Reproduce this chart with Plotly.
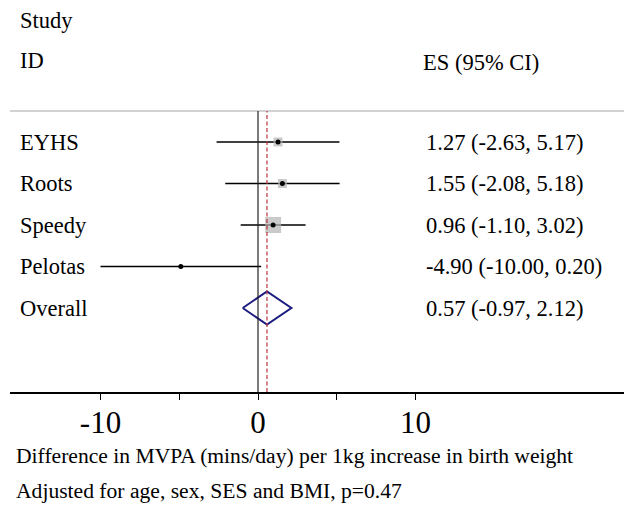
import plotly.graph_objects as go

studies = ["EYHS", "Roots", "Speedy", "Pelotas"]
es = [1.27, 1.55, 0.96, -4.90]
lo = [-2.63, -2.08, -1.10, -10.00]
hi = [5.17, 5.18, 3.02, 0.20]
box_size = [9, 9, 16, 2]

overall_label = "Overall"
overall_es = 0.57
overall_lo = -0.97
overall_hi = 2.12

tick_vals = [-10, -5, 0, 5, 10]
tick_text = ["-10", "", "0", "", "10"]

header_left = ["Study", "ID"]
header_right = "ES (95% CI)"
xlabel = "Difference in MVPA (mins/day) per 1kg increase in birth weight"
note = "Adjusted for age, sex, SES and BMI, p=0.47"

FONT = "Liberation Serif, Times New Roman, serif"
OFF = 8  # page body margin
PAGE_W, PAGE_H = 632, 509
W, H = PAGE_W - OFF, PAGE_H - OFF

# layout in page pixels
PLOT_LEFT, PLOT_RIGHT, PLOT_TOP, PLOT_BOTTOM = 10, 632, 111, 392
PX_PER_UNIT = 15.75
ZERO_PX = 258
ROW0_PX = 142
ROW_STEP = 41.5

L = PLOT_LEFT - OFF
R = max(OFF + W - PLOT_RIGHT, 0)
T = PLOT_TOP - OFF
B = OFF + H - PLOT_BOTTOM

plot_w = W - L - R
plot_h = H - T - B
x_range = [(PLOT_LEFT - ZERO_PX) / PX_PER_UNIT, (PLOT_LEFT + plot_w - ZERO_PX) / PX_PER_UNIT]
y_range = [(PLOT_BOTTOM - ROW0_PX) / ROW_STEP, (PLOT_TOP - ROW0_PX) / ROW_STEP]


def px_x(px):
    return (px - PLOT_LEFT) / plot_w


def px_y(py):
    return (PLOT_BOTTOM - py) / plot_h


fig = go.Figure()

rows = list(range(len(studies)))
for i in rows:
    fig.add_trace(go.Scatter(x=[lo[i], hi[i]], y=[i, i], mode="lines",
                             line=dict(color="black", width=1.6),
                             showlegend=False, hoverinfo="skip"))
fig.add_trace(go.Scatter(x=es, y=rows, mode="markers",
                         marker=dict(symbol="square", size=box_size, color="#b4b4b4",
                                     line=dict(width=0)),
                         showlegend=False, hoverinfo="skip"))
fig.add_trace(go.Scatter(x=es, y=rows, mode="markers",
                         marker=dict(symbol="circle", size=5, color="black"),
                         showlegend=False, hoverinfo="skip"))
oi = len(studies)
hh = 0.4
fig.add_trace(go.Scatter(x=[overall_lo, overall_es, overall_hi, overall_es, overall_lo],
                         y=[oi, oi - hh, oi, oi + hh, oi], mode="lines",
                         line=dict(color="#1c1c80", width=2),
                         showlegend=False, hoverinfo="skip"))

shapes = [
    dict(type="line", xref="paper", yref="paper", x0=0, x1=1, y0=1, y1=1,
         line=dict(color="#d2d2d2", width=2)),
    dict(type="line", xref="x", yref="paper", x0=0, x1=0, y0=0, y1=1,
         line=dict(color="#222222", width=1.2)),
    dict(type="line", xref="x", yref="paper", x0=overall_es, x1=overall_es, y0=0, y1=1,
         line=dict(color="#b8323c", width=1.2, dash="4px,2.5px")),
]

annotations = []
labels = studies + [overall_label]
values = [f"{e:.2f} ({l:.2f}, {h:.2f})" for e, l, h in zip(es, lo, hi)]
values.append(f"{overall_es:.2f} ({overall_lo:.2f}, {overall_hi:.2f})")
for i, (lab, val) in enumerate(zip(labels, values)):
    annotations.append(dict(text=lab, xref="paper", yref="y", x=px_x(18), y=i,
                            xanchor="left", yanchor="middle", showarrow=False,
                            font=dict(family=FONT, size=22.5, color="black")))
    annotations.append(dict(text=val, xref="paper", yref="y", x=px_x(424), y=i,
                            xanchor="left", yanchor="middle", showarrow=False,
                            font=dict(family=FONT, size=22.5, color="black")))

for txt, py in zip(header_left, [20, 61]):
    annotations.append(dict(text=txt, xref="paper", yref="paper", x=px_x(18), y=px_y(py),
                            xanchor="left", yanchor="middle", showarrow=False,
                            font=dict(family=FONT, size=22.5, color="black")))
annotations.append(dict(text=header_right, xref="paper", yref="paper", x=px_x(421), y=px_y(62),
                        xanchor="left", yanchor="middle", showarrow=False,
                        font=dict(family=FONT, size=22.5, color="black")))
annotations.append(dict(text=xlabel, xref="paper", yref="paper", x=px_x(14), y=px_y(456),
                        xanchor="left", yanchor="middle", showarrow=False,
                        font=dict(family=FONT, size=21.6, color="black")))
annotations.append(dict(text=note, xref="paper", yref="paper", x=px_x(14), y=px_y(491),
                        xanchor="left", yanchor="middle", showarrow=False,
                        font=dict(family=FONT, size=21.6, color="black")))

fig.update_layout(
    width=W, height=H,
    margin=dict(l=L, r=R, t=T, b=B, pad=0),
    paper_bgcolor="white", plot_bgcolor="white",
    shapes=shapes, annotations=annotations,
    xaxis=dict(range=x_range, showgrid=False, zeroline=False, showline=True,
               linecolor="black", linewidth=1.5, ticks="outside", ticklen=6,
               tickcolor="black", tickwidth=1.2, tickvals=tick_vals, ticktext=tick_text,
               ticklabelstandoff=-4,
               tickfont=dict(family=FONT, size=31, color="black"), fixedrange=True),
    yaxis=dict(range=y_range, showgrid=False, zeroline=False, showline=False,
               showticklabels=False, ticks="", fixedrange=True),
)

fig.write_html("out.html", config={"displayModeBar": False})
